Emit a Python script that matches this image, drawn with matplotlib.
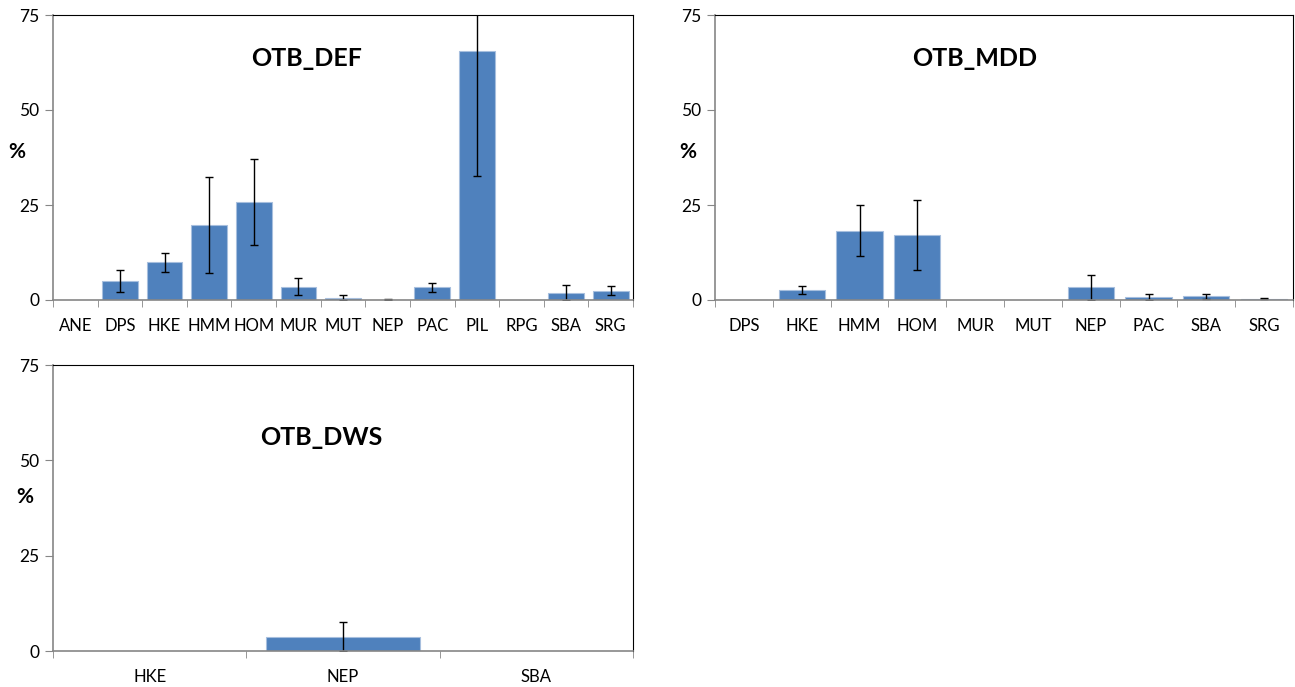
import matplotlib
matplotlib.use('Agg')
import matplotlib.pyplot as plt
import numpy as np

plt.rcParams['font.family'] = ['Lato', 'DejaVu Sans']

# panel OTB_DEF
def_species = ['ANE', 'DPS', 'HKE', 'HMM', 'HOM', 'MUR', 'MUT', 'NEP', 'PAC', 'PIL', 'RPG', 'SBA', 'SRG']
def_values = [0, 5.0, 9.9, 19.8, 25.7, 3.5, 0.6, 0.1, 3.3, 65.4, 0, 1.9, 2.5]
def_errors = [0, 2.9, 2.5, 12.6, 11.3, 2.3, 0.7, 0.1, 1.3, 32.9, 0, 2.0, 1.2]

# panel OTB_MDD
mdd_species = ['DPS', 'HKE', 'HMM', 'HOM', 'MUR', 'MUT', 'NEP', 'PAC', 'SBA', 'SRG']
mdd_values = [0.05, 2.7, 18.2, 17.1, 0, 0, 3.3, 0.8, 1.0, 0.3]
mdd_errors = [0, 1.0, 6.7, 9.3, 0, 0, 3.2, 0.9, 0.7, 0.15]

# panel OTB_DWS
dws_species = ['HKE', 'NEP', 'SBA']
dws_values = [0, 3.8, 0]
dws_errors = [0, 3.9, 0]

bar_color = '#4F81BD'
axis_gray = '#868686'

W, H = 1295, 687
fig = plt.figure(figsize=(W / 100, H / 100), dpi=100)


def make_panel(left, top, right, bottom, species, values, errors, title, title_xy, pct_xy):
    ax = fig.add_axes([left / W, 1 - bottom / H, (right - left) / W, (bottom - top) / H])
    x = np.arange(len(species))
    values = np.array(values, dtype=float)
    errors = np.array(errors, dtype=float)
    edges = ['#A7BFDE' if v > 0 else 'none' for v in values]
    ax.bar(x, values, width=0.8, color=bar_color, edgecolor=edges, linewidth=0.8, zorder=2)
    # error bars only where there is one
    has_err = errors > 0
    ax.errorbar(x[has_err], values[has_err], yerr=errors[has_err], fmt='none',
                ecolor='black', elinewidth=1, capsize=3, capthick=1, zorder=3)
    ax.set_xlim(-0.5, len(species) - 0.5)
    ax.set_ylim(0, 75)
    ax.set_yticks([0, 25, 50, 75])
    ax.set_xticks(x)
    ax.set_xticklabels(species)
    ax.set_xticks(np.arange(len(species) + 1) - 0.5, minor=True)
    ax.tick_params(axis='x', which='major', length=0, pad=13, labelsize=12)
    ax.tick_params(axis='x', which='minor', length=5, color=axis_gray, direction='out')
    ax.tick_params(axis='y', length=6, color=axis_gray, direction='out', labelsize=12.5, pad=4)
    for side in ['top', 'right']:
        ax.spines[side].set_color('black')
        ax.spines[side].set_linewidth(0.8)
    for side in ['left', 'bottom']:
        ax.spines[side].set_color(axis_gray)
        ax.spines[side].set_linewidth(1.2)
    ax.spines['bottom'].set_zorder(3)
    ax.text(title_xy[0], title_xy[1], title, transform=ax.transAxes, ha='center', va='center',
            fontsize=18, fontweight='bold')
    ax.text(pct_xy[0], pct_xy[1], '%', transform=ax.transAxes, ha='center', va='center',
            fontsize=15, fontweight='bold')
    return ax


make_panel(53, 15, 633, 300, def_species, def_values, def_errors, 'OTB_DEF', (0.437, 0.848), (-0.062, 0.519))
make_panel(715, 15, 1293, 300, mdd_species, mdd_values, mdd_errors, 'OTB_MDD', (0.45, 0.848), (-0.047, 0.519))
make_panel(53, 365, 633, 651, dws_species, dws_values, dws_errors, 'OTB_DWS', (0.462, 0.745), (-0.048, 0.538))

fig.savefig('out.png', dpi=100)
